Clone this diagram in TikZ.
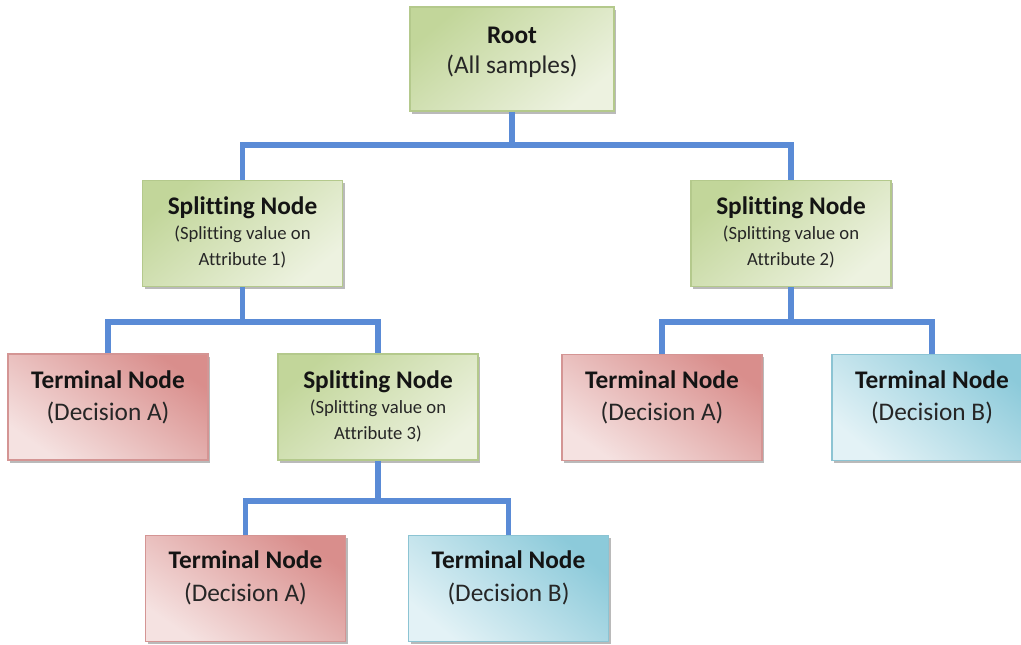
\documentclass[tikz,border=0pt]{standalone}
\usepackage{fontspec}
\setmainfont{Carlito}[Ligatures=CommonOff]
\usetikzlibrary{calc,shadows}

\definecolor{linkblue}{HTML}{5A8BD6}
\definecolor{grnA}{HTML}{C2D69A}
\definecolor{grnB}{HTML}{EDF2E0}
\definecolor{grnE}{HTML}{B4C98C}
\definecolor{redA}{HTML}{D98E8C}
\definecolor{redB}{HTML}{F5E2E1}
\definecolor{redE}{HTML}{D49594}
\definecolor{bluA}{HTML}{8CCADA}
\definecolor{bluB}{HTML}{E3F2F6}
\definecolor{bluE}{HTML}{8CC4D3}

\tikzset{
  box/.style={rectangle, draw, line width=1.1pt, inner sep=0pt,
    minimum width=150pt, minimum height=79.5pt,
    drop shadow={shadow xshift=1.6pt, shadow yshift=-2pt, fill=black!45, opacity=.6}},
  greenbox/.style={box, draw=grnE, top color=grnA, bottom color=grnB, shading angle=40},
  redbox/.style={box, draw=redE, top color=redA, bottom color=redB, shading angle=-35},
  bluebox/.style={box, draw=bluE, top color=bluA, bottom color=bluB, shading angle=-40},
  title/.style={font=\bfseries\fontsize{19}{23}\selectfont, text=black!92, inner sep=0pt, anchor=base},
  sub/.style={font=\fontsize{19}{23}\selectfont, text=black!85, inner sep=0pt, anchor=base},
  note/.style={font=\fontsize{14}{17}\selectfont, text=black!85, inner sep=0pt, anchor=base},
  link/.style={draw=linkblue, line width=3.8pt}
}

% terminal (leaf) box: name, centre, box style, decision letter, title offset
\newcommand\TreeTerm[5]{%
  \node[#3] (#1) at (#2) {};
  \node[title] (#1-t) at ($(#1.center)+(0,#5)$) {Terminal Node};
  \node[sub] (#1-s) at ($(#1.center)+(0,13)$) {(Decision #4)};
}
% splitting box: name, centre, attribute number
\newcommand\TreeSplit[3]{%
  \node[greenbox] (#1) at (#2) {};
  \node[title] (#1-t) at ($(#1.center)+(0,-19)$) {Splitting Node};
  \node[note] (#1-a) at ($(#1.center)+(0,6)$) {(Splitting value on};
  \node[note] (#1-b) at ($(#1.center)+(0,32)$) {Attribute #3)};
}

\begin{document}
\begin{tikzpicture}[x=0.75pt, y=-0.75pt]
  \useasboundingbox[fill=white] (0,0) rectangle (1021,644);

  % junction points of the connector buses
  \coordinate (bus1) at (512,145);
  \coordinate (bus2) at (242.5,322);
  \coordinate (bus3) at (791,322);
  \coordinate (bus4) at (378,501);

  % root
  \node[greenbox, minimum width=153pt, minimum height=78pt] (root) at (512,59) {};
  \node[title] (root-t) at ($(root.center)+(0,-16)$) {Root};
  \node[sub] (root-s) at ($(root.center)+(0,14)$) {(All samples)};

  % second level
  \TreeSplit{s1}{242.5,233.5}{1}
  \TreeSplit{s2}{791,233.5}{2}

  % third level
  \TreeTerm{ta1}{108,407}{redbox}{A}{-19}
  \TreeSplit{s3}{378,407}{3}
  \TreeTerm{ta2}{662,407.5}{redbox}{A}{-19}
  \TreeTerm{tb2}{932,407.5}{bluebox}{B}{-19}

  % fourth level
  \TreeTerm{ta3}{245.5,588.5}{redbox}{A}{-20.5}
  \TreeTerm{tb3}{508.5,588.5}{bluebox}{B}{-20.5}

  % links
  \draw[link] (root.south) -- (bus1);
  \draw[link] (s1.north) |- (bus1) -| (s2.north);
  \draw[link] (s1.south) -- (bus2);
  \draw[link] (ta1.north) |- (bus2) -| (s3.north);
  \draw[link] (s2.south) -- (bus3);
  \draw[link] (ta2.north) |- (bus3) -| (tb2.north);
  \draw[link] (s3.south) -- (bus4);
  \draw[link] (ta3.north) |- (bus4) -| (tb3.north);
\end{tikzpicture}
\end{document}
